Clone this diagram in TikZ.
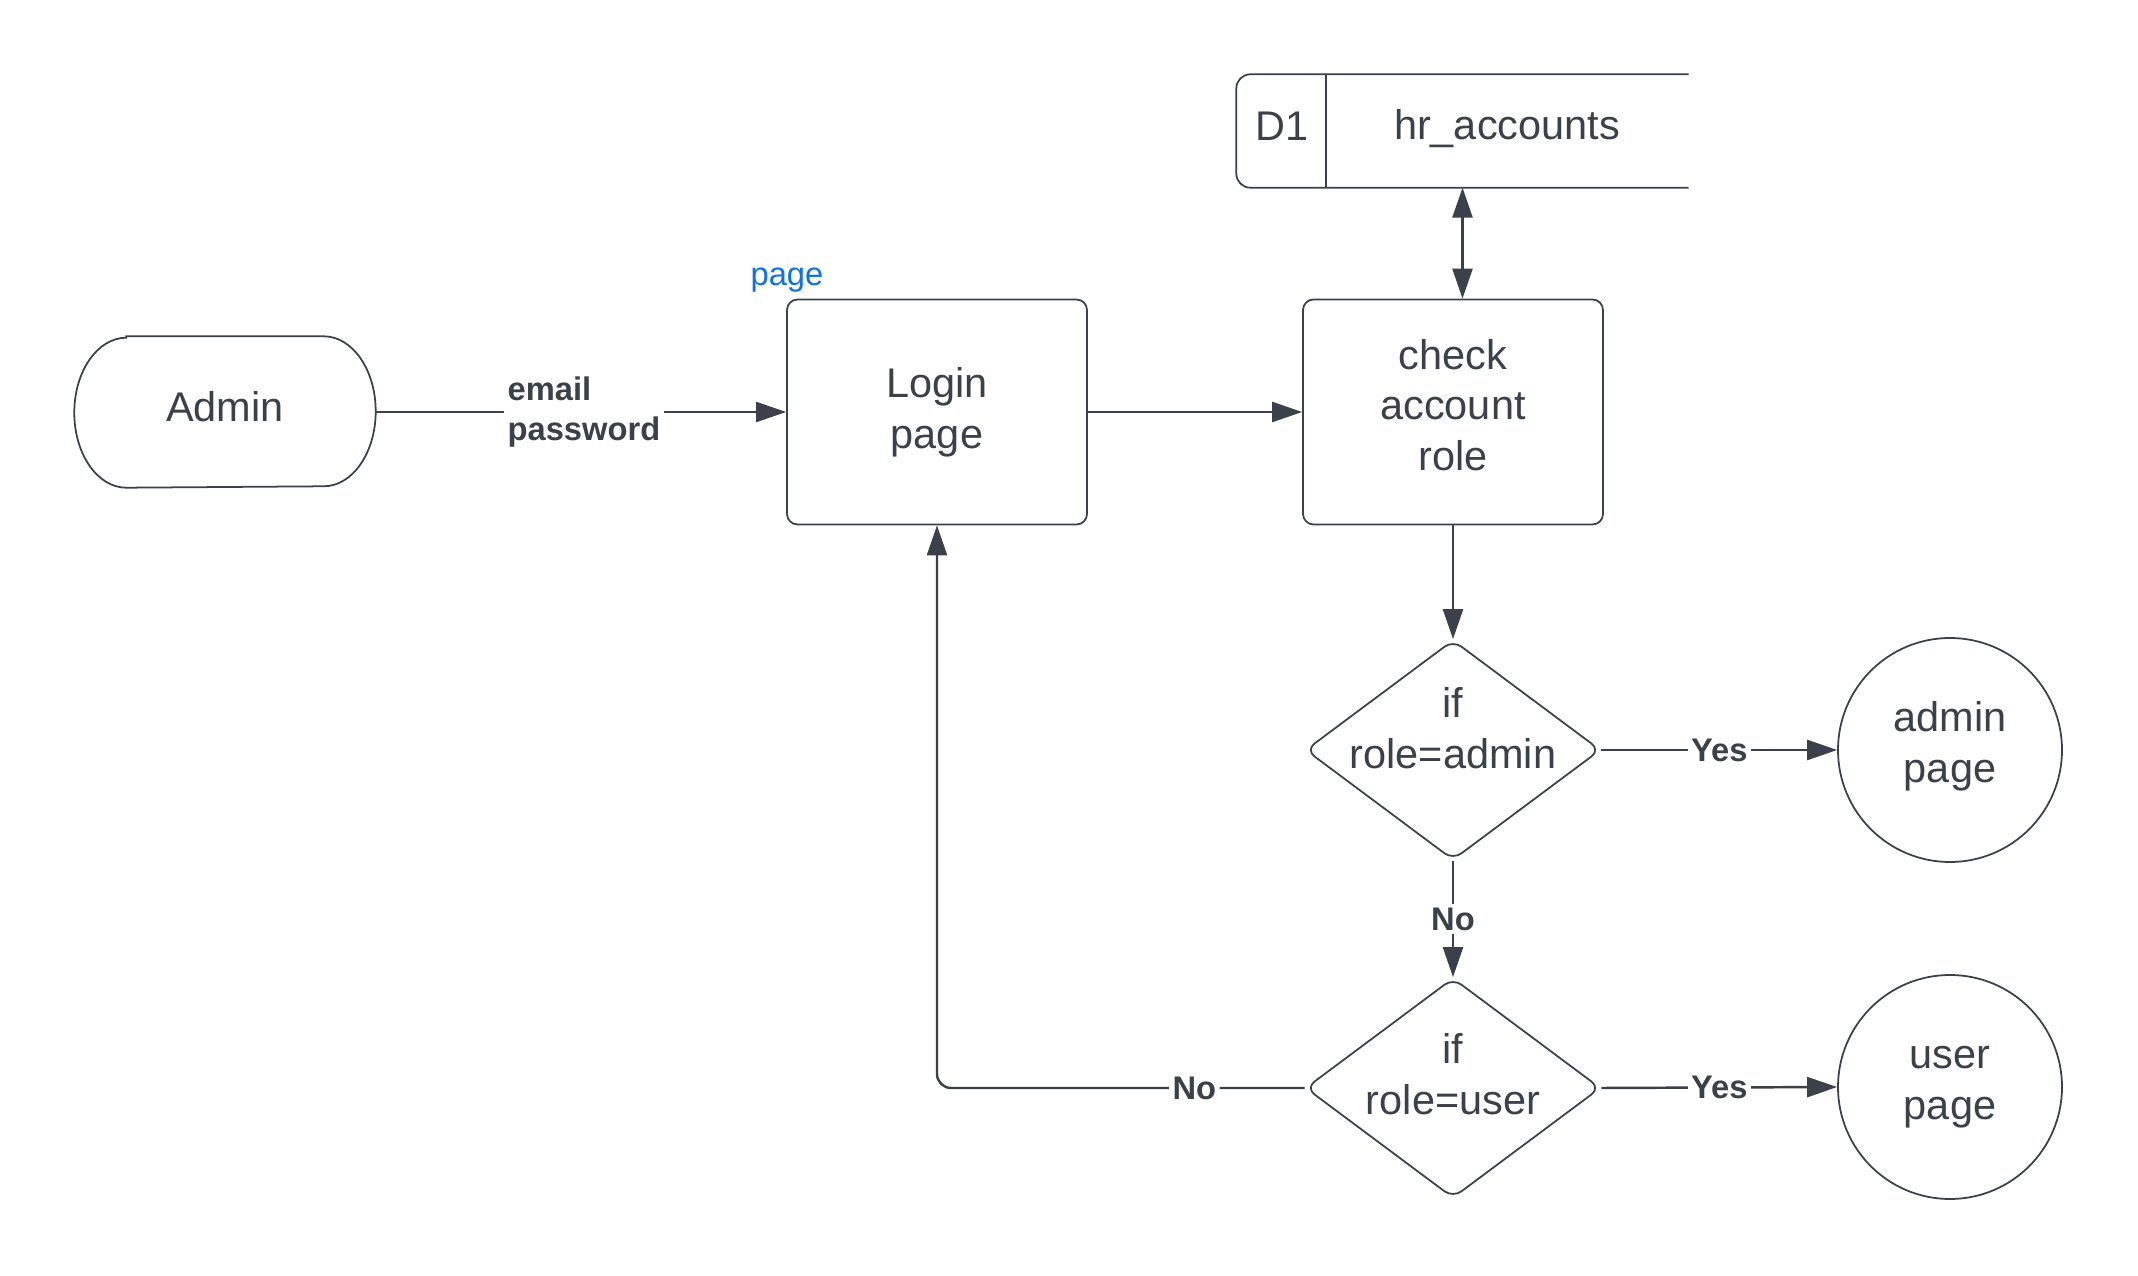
\documentclass[tikz,border=0pt]{standalone}
\usepackage{fontspec}
\setmainfont{Liberation Sans}
\usepackage{tikz}
\usetikzlibrary{arrows.meta,shapes.geometric,calc}
\usepackage{xcolor}
\definecolor{ink}{HTML}{3A414A}
\definecolor{lucidblue}{HTML}{1071E5}

\begin{document}
\begin{tikzpicture}[
  every node/.style={text=ink, font=\fontsize{11.8}{14.4}\selectfont},
  proc/.style={draw=ink, line width=0.5pt, rounded corners=3pt, minimum width=3cm, minimum height=2.25cm, align=center},
  cond/.style={diamond, draw=ink, line width=0.5pt, rounded corners=3pt, minimum width=2.95cm, minimum height=2.2cm, inner sep=0pt},
  pagecirc/.style={circle, draw=ink, line width=0.5pt, minimum size=2.24cm, align=center},
  flow/.style={draw=ink, line width=0.7pt, -{Triangle[length=3mm,width=2mm]}},
  lbl/.style={fill=white, inner sep=1pt, font=\bfseries\fontsize{9.3}{11.2}\selectfont},
]
  \useasboundingbox (0,0) rectangle (21.38,12.75);

  % The external entity
  \node[minimum width=3cm, minimum height=1.5cm] (admin) at (2.25,8.63) {};
  \draw[ink, line width=0.5pt] ([xshift=0.52cm]admin.north west) -- ([xshift=-0.52cm]admin.north east)
    arc[start angle=90, end angle=-90, x radius=0.52cm, y radius=0.75cm]
    -- ([xshift=0.52cm]admin.south west)
    arc[start angle=270, end angle=90, x radius=0.52cm, y radius=0.75cm] -- cycle;
  \node[yshift=0.05cm] (admintxt) at (admin) {Admin};

  % Processes
  \node[proc] (login) at (9.37,8.63) {Login\\page};
  \node[text=lucidblue, font=\fontsize{9.3}{11.2}\selectfont] (logintag) at (7.87,9.95) {page};
  \node[proc] (check) at (14.53,8.63) {};
  \node[align=center, yshift=0.07cm] (checktxt) at (check) {check\\account\\role};

  % The data store
  \node[minimum width=4.51cm, minimum height=1.12cm] (store) at (14.625,11.44) {};
  \draw[ink, line width=0.5pt, rounded corners=4pt] (store.north east) -- (store.north west)
    -- (store.south west) -- (store.south east);
  \draw[ink, line width=0.5pt] ([xshift=0.9cm]store.north west) -- ([xshift=0.9cm]store.south west);
  \node (storeid) at (12.82,11.49) {D1};
  \node (storename) at (15.07,11.46) {hr\_accounts};

  % Decisions
  \node[cond] (ifadmin) at (14.53,5.25) {};
  \node[align=center, yshift=0.22cm] (ifadmintxt) at (ifadmin) {if\\role=admin};
  \node[cond] (ifuser) at (14.53,1.87) {};
  \node[align=center, yshift=0.14cm] (ifusertxt) at (ifuser) {if\\role=user};

  % Result pages
  \node[pagecirc] (adminpg) at (19.50,5.25) {};
  \node[align=center, yshift=0.04cm] (adminpgtxt) at (adminpg) {admin\\page};
  \node[pagecirc] (userpg) at (19.50,1.88) {user\\page};

  % Flows
  \draw[flow] (admin.east) -- node[lbl, align=left, anchor=west, pos=0.31] {email\\password} (login.west);
  \draw[flow] (login.east) -- (check.west);
  \draw[flow, {Triangle[length=3mm,width=2mm]}-{Triangle[length=3mm,width=2mm]}] (store.south) -- (store.south |- check.north);
  \draw[flow] (check.south) -- (ifadmin.north);
  \draw[flow] (ifadmin.east) -- node[lbl] {Yes} (adminpg.west);
  \draw[flow] (ifadmin.south) -- node[lbl] {No} (ifuser.north);
  \draw[flow] (ifuser.east) -- node[lbl] {Yes} (userpg.west);
  \draw[flow, rounded corners=4pt] (ifuser.west) -| node[lbl, pos=0.15] {No} (login.south);
\end{tikzpicture}
\end{document}
